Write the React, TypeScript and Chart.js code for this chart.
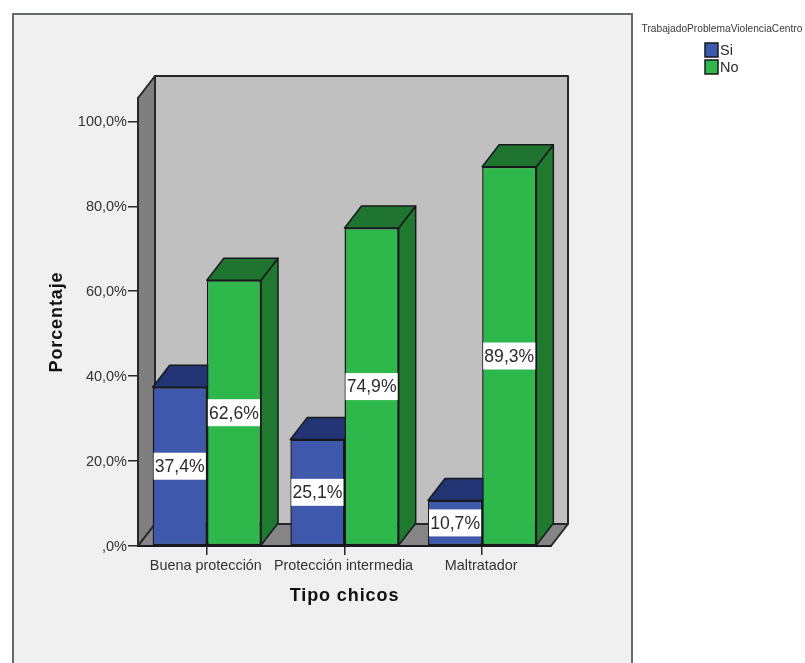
import React, { useEffect, useRef } from "react";
import { Chart, registerables } from "chart.js";

Chart.register(...registerables);

const categories = ["Buena protección", "Protección intermedia", "Maltratador"];
const siValues = [37.4, 25.1, 10.7];
const noValues = [62.6, 74.9, 89.3];
const yTicks = [0, 20, 40, 60, 80, 100];
const yTickLabels = [",0%", "20,0%", "40,0%", "60,0%", "80,0%", "100,0%"];
const legendTitle = "TrabajadoProblemaViolenciaCentro";
const seriesNames = ["Si", "No"];
const FONT = "'Liberation Sans', Arial, sans-serif";

const DEPTH_X = 17;
const DEPTH_Y = 22;
const INK = "#17191c";

function poly(ctx: CanvasRenderingContext2D, pts: number[][], fill: string, stroke = INK, lw = 1.5) {
  ctx.beginPath();
  pts.forEach(([x, y], i) => (i ? ctx.lineTo(x, y) : ctx.moveTo(x, y)));
  ctx.closePath();
  ctx.fillStyle = fill;
  ctx.fill();
  ctx.lineWidth = lw;
  ctx.strokeStyle = stroke;
  ctx.lineJoin = "round";
  ctx.stroke();
}

function spacedTitle(scale: any) {
  if (scale.__spaced || !scale.drawTitle) return;
  scale.__spaced = true;
  const original = scale.drawTitle;
  scale.drawTitle = function (...args: any[]) {
    const ctx = this.ctx;
    ctx.letterSpacing = "0.9px";
    original.apply(this, args);
    ctx.letterSpacing = "0px";
  };
}

const scene = {
  id: "scene3d",
  beforeDraw(chart: any) {
    const { ctx, chartArea: a } = chart;
    ctx.save();
    ctx.fillStyle = "#ffffff";
    ctx.fillRect(0, 0, chart.width, chart.height);
    // panel, open at the bottom of the image
    ctx.fillStyle = "#f0f0f0";
    ctx.fillRect(13, 14, 619, chart.height);
    ctx.strokeStyle = "#666a6c";
    ctx.lineWidth = 2;
    ctx.beginPath();
    ctx.moveTo(13, chart.height);
    ctx.lineTo(13, 14);
    ctx.lineTo(632, 14);
    ctx.lineTo(632, chart.height);
    ctx.stroke();
    // back wall
    poly(ctx, [
      [a.left + DEPTH_X, a.top - DEPTH_Y],
      [a.right + DEPTH_X, a.top - DEPTH_Y],
      [a.right + DEPTH_X, a.bottom - DEPTH_Y],
      [a.left + DEPTH_X, a.bottom - DEPTH_Y],
    ], "#c0c0c0", "#26282a", 2);
    // left wall
    poly(ctx, [
      [a.left, a.top],
      [a.left + DEPTH_X, a.top - DEPTH_Y],
      [a.left + DEPTH_X, a.bottom - DEPTH_Y],
      [a.left, a.bottom],
    ], "#7f7f7f", "#26282a", 2);
    // floor
    poly(ctx, [
      [a.left, a.bottom],
      [a.left + DEPTH_X, a.bottom - DEPTH_Y],
      [a.right + DEPTH_X, a.bottom - DEPTH_Y],
      [a.right, a.bottom],
    ], "#858585", "#26282a", 2);
    ctx.restore();
  },
  beforeDatasetsDraw(chart: any) {
    const { ctx } = chart;
    const shades = [
      { top: "#223474", side: "#223474" },
      { top: "#1f7430", side: "#1f7a30" },
    ];
    ctx.save();
    chart.data.datasets.forEach((_: any, d: number) => {
      chart.getDatasetMeta(d).data.forEach((bar: any) => {
        const { x, y, base, width } = bar.getProps(["x", "y", "base", "width"], true);
        const l = x - width / 2;
        const r = x + width / 2;
        poly(ctx, [
          [r, y],
          [r + DEPTH_X, y - DEPTH_Y],
          [r + DEPTH_X, base - DEPTH_Y],
          [r, base],
        ], shades[d].side);
        poly(ctx, [
          [l, y],
          [l + DEPTH_X, y - DEPTH_Y],
          [r + DEPTH_X, y - DEPTH_Y],
          [r, y],
        ], shades[d].top);
      });
    });
    ctx.restore();
  },
  afterDatasetsDraw(chart: any) {
    const { ctx } = chart;
    ctx.save();
    ctx.font = `17.6px ${FONT}`;
    ctx.textAlign = "center";
    ctx.textBaseline = "middle";
    chart.data.datasets.forEach((ds: any, d: number) => {
      chart.getDatasetMeta(d).data.forEach((bar: any, i: number) => {
        const { x, y, base, width } = bar.getProps(["x", "y", "base", "width"], true);
        const cy = (y + base) / 2;
        ctx.fillStyle = "#ffffff";
        ctx.fillRect(x - width / 2 + 1, cy - 13.5, width - 2, 27);
        ctx.fillStyle = "#2b2b2b";
        ctx.fillText(ds.data[i].toFixed(1).replace(".", ",") + "%", x, cy + 1);
      });
    });
    ctx.restore();
  },
  afterDraw(chart: any) {
    const { ctx } = chart;
    ctx.save();
    ctx.font = `10.2px ${FONT}`;
    ctx.fillStyle = "#3a3a3a";
    ctx.textAlign = "center";
    ctx.textBaseline = "middle";
    ctx.fillText(legendTitle, 722, 29);
    ctx.font = `14.5px ${FONT}`;
    ctx.textAlign = "left";
    chart.data.datasets.forEach((ds: any, d: number) => {
      const top = 43 + d * 17;
      ctx.fillStyle = ds.backgroundColor;
      ctx.strokeStyle = INK;
      ctx.lineWidth = 1.5;
      ctx.fillRect(705, top, 13, 14);
      ctx.strokeRect(705, top, 13, 14);
      ctx.fillStyle = "#2b2b2b";
      ctx.fillText(ds.label, 720, top + 8);
    });
    ctx.restore();
  },
};

export default function App() {
  const ref = useRef<HTMLCanvasElement>(null);
  useEffect(() => {
    const chart = new Chart(ref.current!, {
      type: "bar",
      plugins: [scene],
      data: {
        labels: categories,
        datasets: [
          { label: seriesNames[0], data: siValues, backgroundColor: "#3e58ac", borderColor: INK, borderWidth: 1.5, borderSkipped: false },
          { label: seriesNames[1], data: noValues, backgroundColor: "#2eb84c", borderColor: INK, borderWidth: 1.5, borderSkipped: false },
        ],
      },
      options: {
        animation: false,
        responsive: false,
        layout: { padding: { top: 98, right: 254, left: 0, bottom: 0 } },
        plugins: { legend: { display: false }, tooltip: { enabled: false } },
        datasets: { bar: { barPercentage: 1, categoryPercentage: 0.787 } },
        scales: {
          x: {
            afterFit: (s: any) => { s.height = 117; spacedTitle(s); },
            grid: { drawOnChartArea: false, drawTicks: true, tickLength: 9, offset: false, color: "#26282a", lineWidth: 1.5 },
            border: { display: true, color: "#17191c", width: 2 },
            ticks: { font: { family: FONT, size: 14.4 }, color: "#333333", padding: 2, labelOffset: -1, maxRotation: 0, autoSkip: false },
            title: { display: true, text: "Tipo chicos", font: { family: FONT, size: 18, weight: "bold" }, color: "#111111", padding: { top: 0, bottom: 56 } },
          },
          y: {
            min: 0,
            max: 105.5,
            afterBuildTicks: (s: any) => { s.ticks = yTicks.map((value) => ({ value })); },
            afterFit: (s: any) => { s.width = 138; spacedTitle(s); },
            grid: { drawOnChartArea: false, drawTicks: true, tickLength: 10, color: "#26282a", lineWidth: 1.5 },
            border: { display: true, color: "#26282a", width: 2 },
            ticks: { font: { family: FONT, size: 14.5 }, color: "#333333", padding: 1, labelOffset: 1, callback: (_: any, i: number) => yTickLabels[i] },
            title: { display: true, text: "Porcentaje", font: { family: FONT, size: 18, weight: "bold" }, color: "#111111", padding: { top: 46, bottom: 0 } },
          },
        },
      } as any,
    });
    return () => chart.destroy();
  }, []);
  return (
    <div style={{ position: "fixed", left: 0, top: 0 }}>
      <canvas ref={ref} width={805} height={663} style={{ display: "block" }} />
    </div>
  );
}
